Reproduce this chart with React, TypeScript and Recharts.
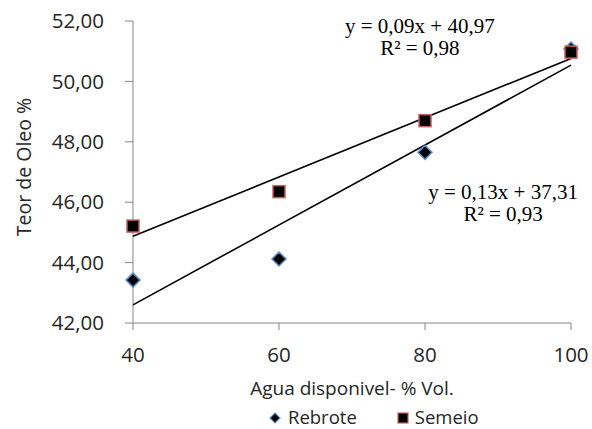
import React from 'react';
import { ScatterChart, Scatter, XAxis, YAxis, Legend, ReferenceDot } from 'recharts';

const waterLevels = [40, 60, 80, 100];
const rebroteValues = [43.42, 44.12, 47.65, 51.07];
const semeioValues = [45.21, 46.35, 48.7, 50.97];
const trendX = [40, 100];
const rebroteTrendValues = [42.6, 50.54];
const semeioTrendValues = [44.87, 50.76];
const xTicks = [40, 60, 80, 100];
const yTicks = [42, 44, 46, 48, 50, 52];
const semeioEquation = ['y = 0,09x + 40,97', 'R² = 0,98'];
const rebroteEquation = ['y = 0,13x + 37,31', 'R² = 0,93'];

const rebroteData = waterLevels.map((x, i) => ({ x, y: rebroteValues[i] }));
const semeioData = waterLevels.map((x, i) => ({ x, y: semeioValues[i] }));
const rebroteTrend = trendX.map((x, i) => ({ x, y: rebroteTrendValues[i] }));
const semeioTrend = trendX.map((x, i) => ({ x, y: semeioTrendValues[i] }));

const BLUE = '#5b8cc8';
const RED = '#c9605d';
const AXIS = '#868686';
const TEXT = '#262626';
const FONT = '"Open Sans", sans-serif';

const Diamond = (props: any) => {
  const { cx, cy } = props;
  const r = 7;
  return (
    <path
      d={`M${cx},${cy - r} L${cx + r},${cy} L${cx},${cy + r} L${cx - r},${cy} Z`}
      fill="#000"
      stroke={BLUE}
      strokeWidth={1.5}
    />
  );
};

const Square = (props: any) => {
  const { cx, cy } = props;
  const s = 6;
  return <rect x={cx - s} y={cy - s} width={2 * s} height={2 * s} fill="#000" stroke={RED} strokeWidth={1.5} />;
};

const NoShape = () => <g />;

const eqLabel = (lines: string[]) => (props: any) => {
  const { viewBox } = props;
  const cx = viewBox.x + (viewBox.width || 0) / 2;
  const cy = viewBox.y + (viewBox.height || 0) / 2;
  return (
    <text x={cx} textAnchor="middle" fontFamily='"Liberation Serif", serif' fontSize={21} fill="#000">
      <tspan x={cx} y={cy + 7}>{lines[0]}</tspan>
      <tspan x={cx} y={cy + 29}>{lines[1]}</tspan>
    </text>
  );
};

const LegendContent = () => (
  <div
    style={{
      height: 30,
      display: 'flex',
      justifyContent: 'flex-start',
      alignItems: 'flex-start',
      fontFamily: FONT,
      fontSize: 18.5,
      lineHeight: '20px',
      color: TEXT,
      paddingLeft: 269,
      paddingTop: 8,
      boxSizing: 'border-box',
    }}
  >
    <svg width={12} height={12} style={{ marginRight: 7, marginTop: 5 }}>
      <path d="M6,1 L11,6 L6,11 L1,6 Z" fill="#000" stroke={BLUE} strokeWidth={1.2} />
    </svg>
    <span style={{ marginRight: 40 }}>Rebrote</span>
    <svg width={12} height={12} style={{ marginRight: 6, marginTop: 5 }}>
      <rect x={1} y={1} width={10} height={10} fill="#000" stroke={RED} strokeWidth={1.2} />
    </svg>
    <span>Semeio</span>
  </div>
);

export default function App() {
  return (
    <div style={{ position: 'absolute', left: 0, top: 0, width: 592, height: 429, background: '#fff' }}>
      <ScatterChart width={592} height={429} margin={{ top: 21, right: 21, left: 0, bottom: 0 }}>
        <XAxis
          type="number"
          dataKey="x"
          domain={[40, 100]}
          ticks={xTicks}
          stroke={AXIS}
          tickSize={7}
          tickMargin={17}
          height={76}
          tick={{ fill: TEXT, fontFamily: FONT, fontSize: 20.5 }}
          label={{
            content: (p: any) => (
              <text
                x={p.viewBox.x + p.viewBox.width / 2}
                y={p.viewBox.y + 72}
                textAnchor="middle"
                fontFamily={FONT}
                fontSize={19}
                fill={TEXT}
              >
                Agua disponivel- % Vol.
              </text>
            ),
          }}
        />
        <YAxis
          type="number"
          dataKey="y"
          domain={[42, 52]}
          ticks={yTicks}
          width={133}
          stroke={AXIS}
          tickSize={8}
          tickMargin={21}
          tickFormatter={(v: number) => v.toFixed(2).replace('.', ',')}
          tick={{ fill: TEXT, fontFamily: FONT, fontSize: 20.5 }}
          label={{
            content: (p: any) => (
              <text
                x={31}
                y={p.viewBox.y + p.viewBox.height / 2 - 5}
                textAnchor="middle"
                transform={`rotate(-90, 31, ${p.viewBox.y + p.viewBox.height / 2 - 5})`}
                fontFamily={FONT}
                fontSize={19.5}
                fill={TEXT}
              >
                Teor de Oleo %
              </text>
            ),
          }}
        />
        <Legend verticalAlign="bottom" height={30} content={<LegendContent />} />
        <Scatter
          name="semeioTrend"
          data={semeioTrend}
          line={{ stroke: '#000', strokeWidth: 1.6 }}
          shape={NoShape}
          legendType="none"
          isAnimationActive={false}
        />
        <Scatter
          name="rebroteTrend"
          data={rebroteTrend}
          line={{ stroke: '#000', strokeWidth: 1.6 }}
          shape={NoShape}
          legendType="none"
          isAnimationActive={false}
        />
        <Scatter name="Rebrote" data={rebroteData} shape={Diamond} isAnimationActive={false} />
        <Scatter name="Semeio" data={semeioData} shape={Square} isAnimationActive={false} />
        <ReferenceDot x={79.3} y={51.83} r={0} ifOverflow="visible" label={{ content: eqLabel(semeioEquation) }} />
        <ReferenceDot x={90.7} y={46.34} r={0} ifOverflow="visible" label={{ content: eqLabel(rebroteEquation) }} />
      </ScatterChart>
    </div>
  );
}
